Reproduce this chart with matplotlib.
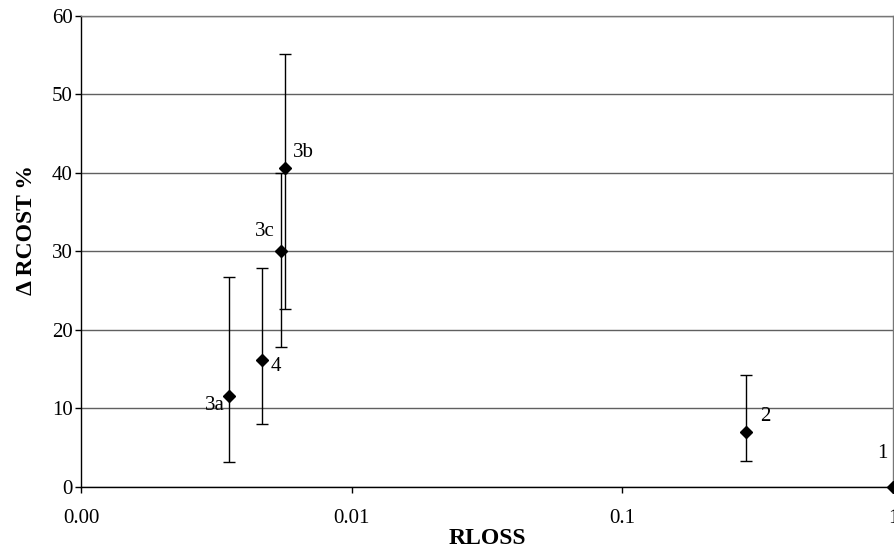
import matplotlib
matplotlib.use("Agg")
import matplotlib.pyplot as plt
import numpy as np

# data
labels = ["3a", "4", "3c", "3b", "2", "1"]
rloss = [0.00351, 0.00467, 0.00546, 0.00569, 0.286, 1.0]
rcost = [11.55, 16.2, 30.0, 40.6, 7.0, 0.0]
err_low = [3.2, 8.0, 17.8, 22.6, 3.3, 0.0]
err_high = [26.75, 27.8, 39.9, 55.1, 14.2, 0.0]
label_offsets = [(-10, -7), (10, -5), (-11, 14), (13, 11), (14, 11), (-8, 24)]

x_ticks = [0.001, 0.01, 0.1, 1]
x_ticklabels = ["0.00", "0.01", "0.1", "1"]
y_ticks = [0, 10, 20, 30, 40, 50, 60]

plt.rcParams["font.family"] = ["Liberation Serif", "DejaVu Serif"]

fig = plt.figure(figsize=(8.95, 5.52), dpi=100)
ax = fig.add_axes([0.0905, 0.1183, 0.9073, 0.8533])

for y in y_ticks:
    ax.axhline(y, color="#606060", linewidth=1.0, zorder=1)

has_err = [i for i in range(len(rloss)) if err_high[i] > rcost[i]]
ax.errorbar(
    [rloss[i] for i in has_err],
    [rcost[i] for i in has_err],
    yerr=[[rcost[i] - err_low[i] for i in has_err], [err_high[i] - rcost[i] for i in has_err]],
    fmt="none", ecolor="black", elinewidth=1.0, capsize=4.5, capthick=1.0, zorder=2,
)
ax.plot(rloss, rcost, linestyle="none", marker="D", color="black", markersize=6.5, zorder=3, clip_on=False)

for lab, x, y, off in zip(labels, rloss, rcost, label_offsets):
    ax.annotate(lab, (x, y), xytext=off, textcoords="offset points",
                ha="center", va="center", fontsize=15)

ax.set_xscale("log")
ax.set_xlim(0.001, 1)
ax.set_ylim(0, 60)
ax.set_xticks(x_ticks)
ax.set_xticklabels(x_ticklabels)
ax.xaxis.set_minor_locator(matplotlib.ticker.NullLocator())
ax.set_yticks(y_ticks)
ax.tick_params(axis="both", labelsize=15, length=4, width=1, direction="out", colors="black")
ax.tick_params(axis="x", pad=12)
ax.tick_params(axis="y", pad=2)

for side in ["left", "bottom"]:
    ax.spines[side].set_color("black")
    ax.spines[side].set_linewidth(1.0)
for side in ["top", "right"]:
    ax.spines[side].set_color("#777777")
    ax.spines[side].set_linewidth(1.0)

ax.set_xlabel("RLOSS", fontsize=17, fontweight="bold", labelpad=0)
fig.text(27 / 895, 1 - 230 / 552, "\u0394 RCOST %", rotation=90, fontsize=17,
         fontweight="bold", ha="center", va="center")

fig.savefig("out.png", dpi=100)
